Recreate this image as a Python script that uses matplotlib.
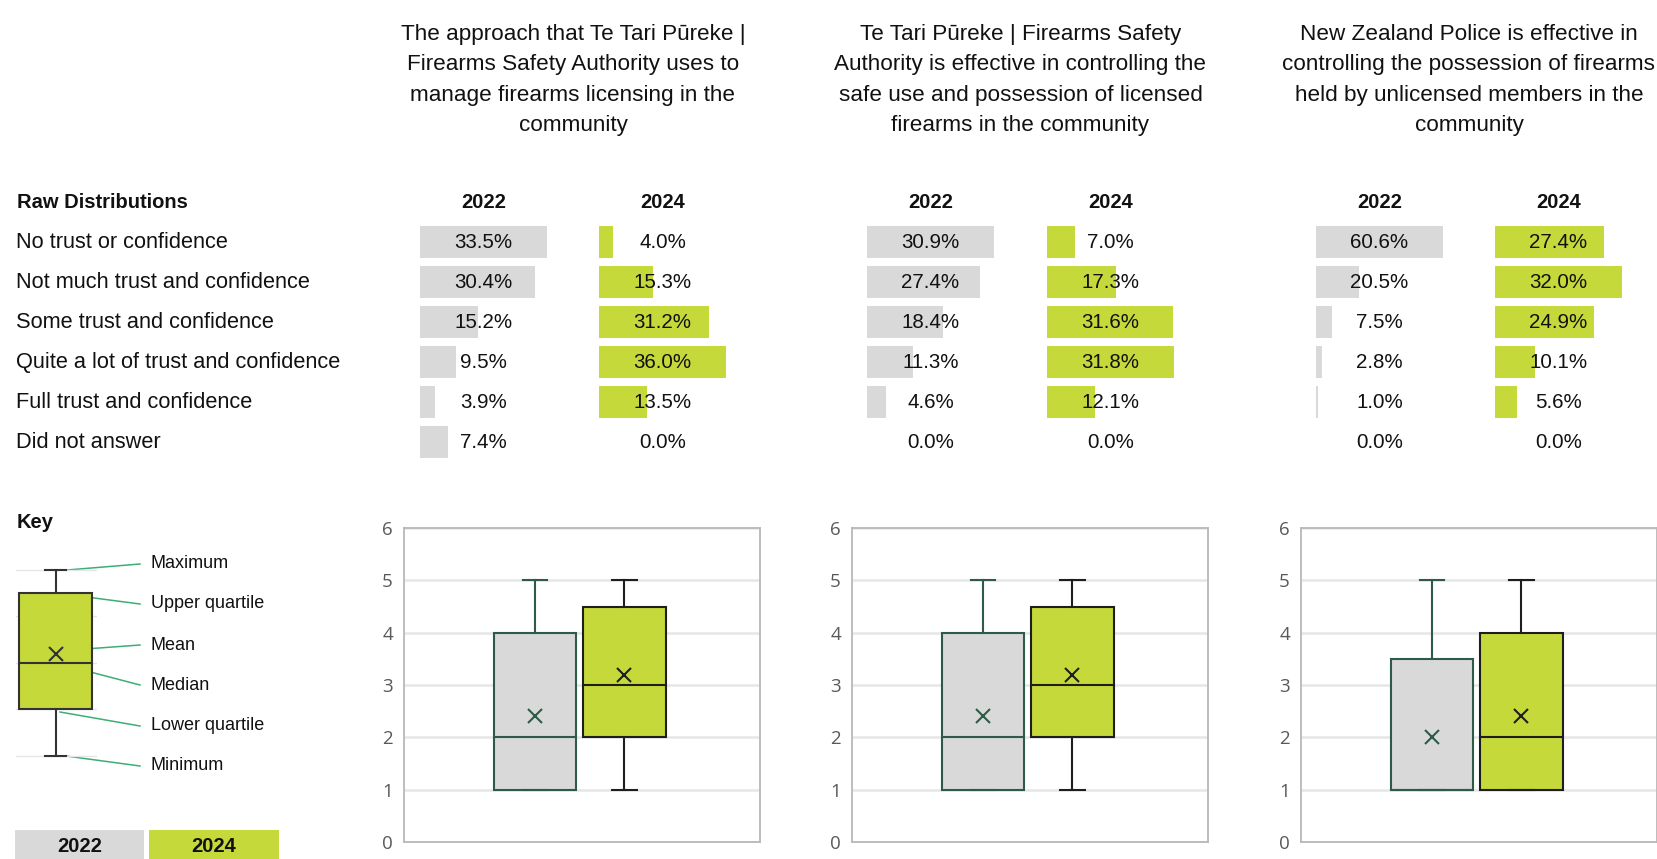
import matplotlib
matplotlib.use("Agg")
import matplotlib.pyplot as plt
from matplotlib.patches import Rectangle

# ---------------- data ----------------
categories = ["No trust or confidence", "Not much trust and confidence",
              "Some trust and confidence", "Quite a lot of trust and confidence",
              "Full trust and confidence", "Did not answer"]
titles = ["The approach that Te Tari Pūreke |\nFirearms Safety Authority uses to\nmanage firearms licensing in the\ncommunity",
          "Te Tari Pūreke | Firearms Safety\nAuthority is effective in controlling the\nsafe use and possession of licensed\nfirearms in the community",
          "New Zealand Police is effective in\ncontrolling the possession of firearms\nheld by unlicensed members in the\ncommunity"]
years = ["2022", "2024"]
pct_2022_q1 = [33.5, 30.4, 15.2, 9.5, 3.9, 7.4]
pct_2024_q1 = [4.0, 15.3, 31.2, 36.0, 13.5, 0.0]
pct_2022_q2 = [30.9, 27.4, 18.4, 11.3, 4.6, 0.0]
pct_2024_q2 = [7.0, 17.3, 31.6, 31.8, 12.1, 0.0]
pct_2022_q3 = [60.6, 20.5, 7.5, 2.8, 1.0, 0.0]
pct_2024_q3 = [27.4, 32.0, 24.9, 10.1, 5.6, 0.0]

# box statistics: (min, q1, median, q3, max, mean)
box_2022_q1 = (1, 1, 2, 4, 5, 2.4)
box_2024_q1 = (1, 2, 3, 4.5, 5, 3.2)
box_2022_q2 = (1, 1, 2, 4, 5, 2.4)
box_2024_q2 = (1, 2, 3, 4.5, 5, 3.2)
box_2022_q3 = (1, 1, 1, 3.5, 5, 2.0)
box_2024_q3 = (1, 1, 2, 4, 5, 2.4)
box_key = (1, 2, 3, 4.5, 5, 3.2)
key_labels = ["Maximum", "Upper quartile", "Mean", "Median", "Lower quartile", "Minimum"]
yticks = [0, 1, 2, 3, 4, 5, 6]

# ---------------- styles ----------------
W, H = 1658, 859
NARROW = ["Liberation Sans Narrow", "Liberation Sans", "DejaVu Sans"]
TICKFONT = ["Open Sans", "DejaVu Sans"]
GREY = "#D9D9D9"
LIME = "#C5D93A"
EDGE22 = "#2D5B48"
EDGE24 = "#1E1E1E"
LEADER = "#3DAE74"

fig = plt.figure(figsize=(W / 100, H / 100), dpi=100)
fig.patch.set_facecolor("white")


def px_axes(x0, y0, x1, y1, **kw):
    return fig.add_axes([x0 / W, 1 - y1 / H, (x1 - x0) / W, (y1 - y0) / H], **kw)


def ftext(x, y, s, **kw):
    kw.setdefault("family", NARROW)
    kw.setdefault("color", "#111111")
    fig.text(x / W, 1 - y / H, s, **kw)


# overlay for annotations (pixel coordinates)
ov = px_axes(0, 0, W, H)
ov.set_xlim(0, W)
ov.set_ylim(H, 0)
ov.axis("off")
ov.set_zorder(-1)

# ---------------- top table ----------------
ftext(17, 202, "Raw Distributions", fontsize=14.5, fontweight="bold", va="center")
row_y0, pitch = 242, 40
for i, c in enumerate(categories):
    ftext(16, row_y0 + i * pitch, c, fontsize=15.7, va="center")

col_starts = [420, 599, 867, 1047, 1316, 1495]
col_w = 127
panels = [(pct_2022_q1, pct_2024_q1), (pct_2022_q2, pct_2024_q2), (pct_2022_q3, pct_2024_q3)]
for p, (a, b) in enumerate(panels):
    cx = (col_starts[2 * p] + col_starts[2 * p + 1] + col_w) / 2
    ftext(cx, 80, titles[p], fontsize=16.2, ha="center", va="center",
          multialignment="center", linespacing=1.6)
    for k, (vals, color) in enumerate([(a, GREY), (b, LIME)]):
        x0 = col_starts[2 * p + k]
        ax = px_axes(x0, row_y0 - pitch / 2, x0 + col_w, row_y0 + pitch * 5.5)
        ax.barh(range(len(vals)), vals, height=0.78, color=color, left=0)
        ax.set_xlim(0, max(vals))
        ax.set_ylim(len(vals) - 0.5, -0.5)
        ax.axis("off")
        for i, v in enumerate(vals):
            ax.text(0.5, i, f"{v:.1f}%", transform=ax.get_yaxis_transform(),
                    ha="center", va="center", fontsize=14.8, family=NARROW, color="#111111")
        ftext(x0 + col_w / 2, 202, years[k], fontsize=14.5, fontweight="bold",
              ha="center", va="center")


# ---------------- box plots ----------------
def stats(t, label):
    lo, q1, med, q3, hi, mean = t
    return dict(whislo=lo, q1=q1, med=med, q3=q3, whishi=hi, mean=mean, label=label, fliers=[])


def draw_box(ax, st, pos, fill, edge, width, capw, lw=1.5, ms=10):
    ax.bxp([st], positions=[pos], widths=width, showmeans=True, patch_artist=True,
           capwidths=capw, showfliers=False, manage_ticks=False,
           boxprops=dict(facecolor=fill, edgecolor=edge, linewidth=lw),
           medianprops=dict(color=edge, linewidth=lw),
           whiskerprops=dict(color=edge, linewidth=lw),
           capprops=dict(color=edge, linewidth=lw),
           meanprops=dict(marker="x", markeredgecolor=edge, markerfacecolor=edge,
                          markersize=ms, markeredgewidth=1.5))


box_axes_left = [404, 852, 1301]
box_sets = [(box_2022_q1, box_2024_q1), (box_2022_q2, box_2024_q2), (box_2022_q3, box_2024_q3)]
for p, (s22, s24) in enumerate(box_sets):
    x0 = box_axes_left[p]
    ax = px_axes(x0, 528, x0 + 356, 842)
    draw_box(ax, stats(s22, years[0]), 1, GREY, EDGE22, 0.914, 0.27)
    draw_box(ax, stats(s24, years[1]), 2, LIME, EDGE24, 0.914, 0.27)
    ax.set_ylim(0, 6)
    ax.set_xlim(-0.457, 3.51)
    ax.set_yticks(yticks)
    ax.yaxis.grid(True, color="#E6E6E6", linewidth=1.8)
    ax.set_axisbelow(True)
    ax.set_xticks([])
    for s in ax.spines.values():
        s.set_color("#B8B8B8")
        s.set_linewidth(1.3)
    ax.tick_params(axis="y", length=0, pad=8, labelsize=13.5, labelcolor="#595959")
    for lab in ax.get_yticklabels():
        lab.set_family(TICKFONT)

# ---------------- key ----------------
ftext(17, 523, "Key", fontsize=14.5, fontweight="bold", va="center")
kax = px_axes(16, 560.7, 97, 765.3)
for g in [1, 2, 3, 4, 5]:
    kax.axhline(g, color="#E6E6E6", linewidth=1, zorder=0)
draw_box(kax, stats(box_key, "key"), 0.488, LIME, "#333333", 0.9, 0.27, lw=1.5, ms=10)
kax.set_ylim(0.8, 5.2)
kax.set_xlim(0, 1)
kax.axis("off")

leader_start = [(67, 570), (56, 593), (58, 651), (56, 663), (60, 712), (66, 756)]
label_y = [564, 604, 645, 685, 726, 766]
for (sx, sy), ly, lab in zip(leader_start, label_y, key_labels):
    ov.plot([sx, 140], [sy, ly], color=LEADER, linewidth=1.1)
    ftext(151, ly, lab, fontsize=13, va="center")

# legend swatches
ov.add_patch(Rectangle((15, 830), 129, 40, facecolor=GREY, edgecolor="none"))
ov.add_patch(Rectangle((149, 830), 130, 40, facecolor=LIME, edgecolor="none"))
ftext(80, 846, years[0], fontsize=14.5, fontweight="bold", ha="center", va="center")
ftext(214, 846, years[1], fontsize=14.5, fontweight="bold", ha="center", va="center")

fig.savefig("out.png", dpi=100, facecolor="white")
